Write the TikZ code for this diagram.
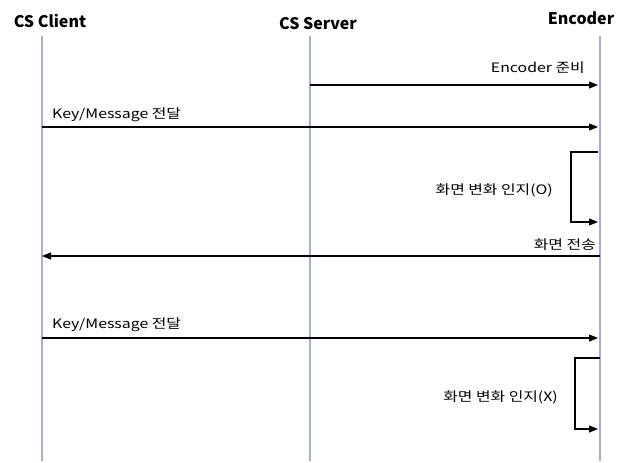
\documentclass[tikz,border=0pt]{standalone}
\usepackage{fontspec}
\setmainfont{Noto Sans CJK KR}
\newfontfamily\lblfont{Noto Sans CJK KR}[FakeStretch=1.22]
\usetikzlibrary{arrows.meta}
\definecolor{lifeblue}{RGB}{160,177,204}
\tikzset{
  lifeline/.style={line width=2.2pt, draw=lifeblue},
  msg/.style={-{Triangle[length=9pt,width=7pt]}, line width=1.1pt},
  head/.style={font=\fontsize{16}{18}\selectfont\bfseries, inner sep=0pt},
  lbl/.style={font=\lblfont\fontsize{13}{15}\selectfont, inner sep=0pt}
}

\begin{document}
\begin{tikzpicture}[x=1pt,y=-1pt]
\useasboundingbox (0,0) rectangle (630,463);
%heads
\node[head] (client) at (50,21) {CS Client};
\node[head] (server) at (318,24) {CS Server};
\node[head] (enc) at (581,18) {Encoder};
%lifelines
\foreach \name/\x in {c/42,s/310,e/600} {
\coordinate (\name top) at (\x,36);
\coordinate (\name bot) at (\x,461);
\draw[lifeline] (\name top) -- (\name bot);
}
%message points
\coordinate (m1a) at (310,85);  \coordinate (m1b) at (598,85);
\coordinate (m2a) at (42,127);  \coordinate (m2b) at (598,127);
\coordinate (l1a) at (598,152); \coordinate (l1b) at (598,222);
\coordinate (m3a) at (600,256); \coordinate (m3b) at (42,256);
\coordinate (m4a) at (42,338);  \coordinate (m4b) at (598,338);
\coordinate (l2a) at (600,358); \coordinate (l2b) at (598,429);
%arrows
\draw[msg] (m1a) -- (m1b);
\draw[msg] (m2a) -- (m2b);
\draw[msg] (l1a) -- ++(-27,0) |- (l1b);
\draw[msg] (m3a) -- (m3b);
\draw[msg] (m4a) -- (m4b);
\draw[msg] (l2a) -- ++(-25,0) |- (l2b);
%labels
\node[lbl, anchor=base east] (t1) at (585,72) {Encoder 준비};
\node[lbl, anchor=base west] (t2) at (52,118) {Key/Message 전달};
\node[lbl, anchor=base east] (t3) at (553,194) {화면 변화 인지(O)};
\node[lbl, anchor=base east] (t4) at (596,249) {화면 전송};
\node[lbl, anchor=base west] (t5) at (52,328) {Key/Message 전달};
\node[lbl, anchor=base east] (t6) at (558,401) {화면 변화 인지(X)};
\end{tikzpicture}
\end{document}
